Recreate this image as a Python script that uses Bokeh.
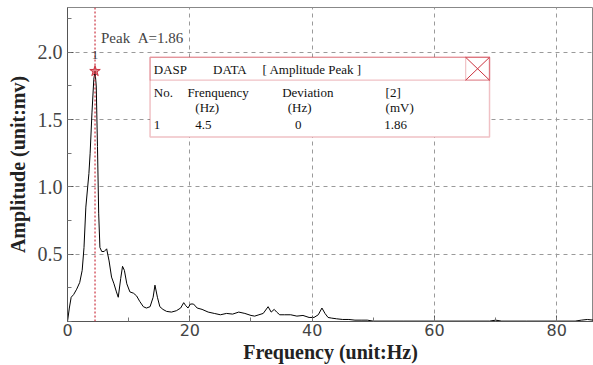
from bokeh.plotting import figure
from bokeh.models import (Range1d, SingleIntervalTicker, Label, BoxAnnotation, Span,
                          NumeralTickFormatter)
from bokeh.embed import file_html
from bokeh.resources import INLINE

# ---- data ----
freq = [0, 0.3, 0.6, 1.0, 1.5, 2.0, 2.4, 2.7, 3.0, 3.3, 3.5, 3.7, 4.0, 4.3, 4.5, 4.7, 4.9,
        5.1, 5.3, 5.6, 6.0, 6.4, 6.8, 7.2, 7.6, 8.0, 8.3, 8.7, 9.0, 9.3, 9.7, 10.2, 10.8,
        11.3, 11.8, 12.4, 12.9, 13.5, 14.0, 14.3, 14.7, 15.1, 15.6, 16.2, 17.0, 17.8, 18.5,
        19.0, 19.3, 19.7, 20.1, 20.6, 21.2, 22.0, 23.0, 24.0, 25.0, 26.0, 27.0, 28.0, 29.0,
        30.0, 30.6, 31.3, 32.0, 32.8, 33.3, 33.8, 34.2, 34.7, 35.5, 36.5, 37.5, 38.5, 39.5,
        40.3, 41.0, 41.6, 42.1, 42.6, 43.2, 44.0, 45.0, 46.0, 47.0, 48.0, 49.0, 50.0, 55.0,
        60.0, 65.0, 69.0, 70.0, 71.0, 75.0, 80.0, 83.0, 84.0, 85.0, 86.0]
amp = [0.0, 0.1, 0.18, 0.2, 0.24, 0.29, 0.38, 0.55, 0.85, 1.0, 1.1, 1.25, 1.55, 1.8, 1.86,
       1.75, 1.3, 0.8, 0.55, 0.52, 0.52, 0.54, 0.45, 0.33, 0.28, 0.22, 0.18, 0.32, 0.41,
       0.38, 0.28, 0.22, 0.21, 0.19, 0.15, 0.11, 0.1, 0.11, 0.18, 0.27, 0.18, 0.11, 0.09,
       0.075, 0.07, 0.08, 0.1, 0.14, 0.12, 0.1, 0.13, 0.13, 0.1, 0.09, 0.07, 0.06, 0.05,
       0.06, 0.055, 0.07, 0.06, 0.045, 0.04, 0.05, 0.06, 0.11, 0.07, 0.09, 0.07, 0.05, 0.05,
       0.05, 0.04, 0.045, 0.03, 0.03, 0.05, 0.1, 0.06, 0.03, 0.025, 0.02, 0.015, 0.015, 0.01,
       0.01, 0.01, 0.003, 0.003, 0.003, 0.003, 0.003, 0.01, 0.003, 0.003, 0.003, 0.003,
       0.01, 0.015, 0.01]

peak_freq = 4.5
peak_amp = 1.86

box_title = ["DASP", "DATA", "[ Amplitude Peak ]"]
box_header = ["No.", "Frenquency", "Deviation", "[2]"]
box_units = ["(Hz)", "(Hz)", "(mV)"]
box_row = ["1", "4.5", "0", "1.86"]

RED = "#cc3340"
SERIF = "Liberation Serif"

p = figure(width=593, height=365, output_backend="svg", toolbar_location=None,
           x_range=Range1d(0, 86), y_range=Range1d(0, 2.333),
           min_border_left=67, min_border_right=0, min_border_top=7, min_border_bottom=43)

p.xaxis.ticker = SingleIntervalTicker(interval=20, num_minor_ticks=2)
p.yaxis.ticker = SingleIntervalTicker(interval=0.5, num_minor_ticks=2)
p.yaxis.formatter = NumeralTickFormatter(format="0.0")
p.yaxis.major_label_overrides = {0: ""}
for ax in (p.xaxis[0], p.yaxis[0]):
    ax.major_tick_in = 6
    ax.major_tick_out = 0
    ax.minor_tick_in = 4
    ax.minor_tick_out = 0
    ax.axis_line_color = "#555555"
    ax.major_tick_line_color = "#555555"
    ax.minor_tick_line_color = "#777777"
    ax.major_label_text_color = "#444444"
    ax.axis_label_text_font = SERIF
    ax.axis_label_text_font_style = "bold"
    ax.axis_label_text_font_size = "20px"
    ax.axis_label_text_color = "#222222"
p.xaxis.major_label_text_font = "DejaVu Sans"
p.xaxis.major_label_text_font_size = "16px"
p.yaxis.major_label_text_font = SERIF
p.yaxis.major_label_text_font_size = "20px"
p.xaxis.axis_label = "Frequency (unit:Hz)"
p.yaxis.axis_label = "Amplitude (unit:mv)"
p.xaxis.major_label_standoff = 2
p.xaxis.axis_label_standoff = 2
p.yaxis.major_label_standoff = 5
p.yaxis.axis_label_standoff = 6

p.grid.grid_line_color = "#9a9a9a"
p.grid.grid_line_dash = "4 4"
p.outline_line_color = "#888888"

p.line(freq, amp, line_color="black", line_width=1.0)

p.add_layout(Span(location=peak_freq, dimension="height", line_color=RED,
                  line_dash="2 2", line_width=1.2))
p.scatter([peak_freq], [peak_amp], marker="star", size=11, fill_color=RED,
          line_color=RED, fill_alpha=0.6)
p.add_layout(Label(x=peak_freq, y=peak_amp, text="1", text_font=SERIF,
                   text_font_size="13px", text_align="center", text_baseline="middle",
                   y_offset=16))
p.add_layout(Label(x=peak_freq, y=2.0, text="Peak\u00a0\u00a0A=%.2f" % peak_amp,
                   text_font=SERIF, text_font_size="15px", x_offset=6, y_offset=6))

# data box
bx0, bx1, by0, by1, bsep, bclose = 13.5, 69.0, 1.37, 1.963, 1.793, 65.1
p.add_layout(BoxAnnotation(left=bx0, right=bx1, bottom=by0, top=by1, fill_color="white",
                           fill_alpha=1, line_color=RED, line_width=1.5))
p.add_layout(BoxAnnotation(left=bx0, right=bx1, bottom=bsep, top=by1, fill_alpha=0,
                           line_color=RED, line_width=1.2))
p.add_layout(BoxAnnotation(left=bclose, right=bx1, bottom=bsep, top=by1, fill_alpha=0,
                           line_color=RED, line_width=1.2))
xr = p.segment(x0=[bclose, bclose], y0=[bsep, by1], x1=[bx1, bx1], y1=[by1, bsep],
               line_color=RED, line_width=1)
xr.level = "overlay"

def txt(x, y, t):
    p.add_layout(Label(x=x, y=y, text=t, text_font=SERIF, text_font_size="13px",
                       text_baseline="middle", text_color="#111111"))

cols_title = [14.1, 23.8, 31.9]
for xx, t in zip(cols_title, box_title):
    txt(xx, 1.875, t)
cols_head = [14.1, 19.6, 35.1, 52.0]
for xx, t in zip(cols_head, box_header):
    txt(xx, 1.70, t)
cols_units = [20.9, 36.0, 52.0]
for xx, t in zip(cols_units, box_units):
    txt(xx, 1.59, t)
cols_row = [14.1, 20.9, 37.2, 51.8]
for xx, t in zip(cols_row, box_row):
    txt(xx, 1.46, t)

open("out.html", "w").write(file_html(p, INLINE))
